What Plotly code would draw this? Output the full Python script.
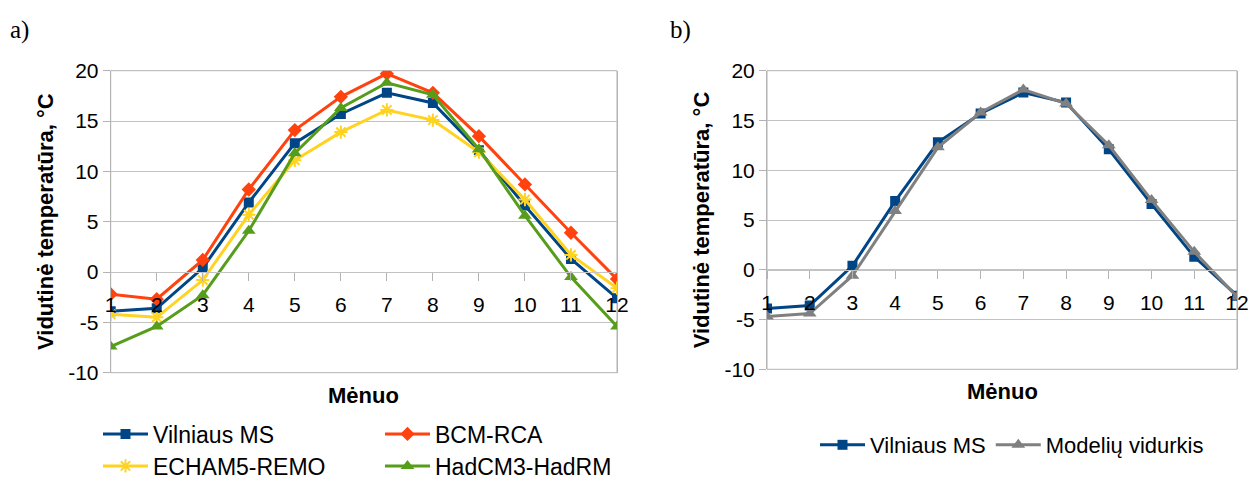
import plotly.graph_objects as go

months = list(range(1, 13))
month_labels = [str(m) for m in months]

vilniaus_ms = [-3.9, -3.6, 0.4, 6.9, 12.8, 15.7, 17.8, 16.8, 12.1, 6.6, 1.3, -2.6]
bcm_rca = [-2.2, -2.7, 1.2, 8.2, 14.1, 17.4, 19.7, 17.8, 13.5, 8.7, 3.9, -0.7]
echam5_remo = [-4.2, -4.5, -0.8, 5.7, 11.1, 13.9, 16.1, 15.1, 11.9, 7.2, 1.7, -1.6]
hadcm3_hadrm = [-7.4, -5.4, -2.3, 4.1, 11.8, 16.3, 18.8, 17.6, 12.2, 5.6, -0.5, -5.4]
modeliu_vidurkis = [-4.7, -4.4, -0.6, 5.9, 12.3, 15.8, 18.1, 16.7, 12.5, 7.0, 1.8, -2.7]

y_ticks = [-10, -5, 0, 5, 10, 15, 20]
y_tick_labels = ["-10", "-5", "0", "5", "10", "15", "20"]

BLUE = "#004586"
ORANGE = "#ff420e"
YELLOW = "#ffd320"
GREEN = "#579d1c"
GRAY = "#808080"
GRID = "#c3c3c3"
BORDER = "#b3b3b3"

W, H = 1251, 482
FONT = "Liberation Sans"

fig = go.Figure()

def add(x, y, name, color, symbol, xa, ya, legend, msize=10):
    fig.add_trace(go.Scatter(
        x=x, y=y, name=name, mode="lines+markers",
        line=dict(color=color, width=3),
        marker=dict(symbol=symbol, size=msize, color=color,
                    line=dict(color=color, width=2 if "asterisk" in symbol else 0)),
        xaxis=xa, yaxis=ya, legend=legend, showlegend=True,
    ))

# chart a
add(months, vilniaus_ms, "Vilniaus MS", BLUE, "square", "x", "y", "legend")
add(months, bcm_rca, "BCM-RCA", ORANGE, "diamond", "x", "y", "legend2", 11)
add(months, echam5_remo, "ECHAM5-REMO", YELLOW, "asterisk-open", "x", "y", "legend3", 11)
add(months, hadcm3_hadrm, "HadCM3-HadRM", GREEN, "triangle-up", "x", "y", "legend4", 12)
# chart b
add(months, vilniaus_ms, "Vilniaus MS", BLUE, "square", "x2", "y2", "legend5")
add(months, modeliu_vidurkis, "Modelių vidurkis", GRAY, "triangle-up", "x2", "y2", "legend5", 12)

xa_dom = [110.7 / W, 617 / W]
xb_dom = [767 / W, 1237 / W]
ya_dom = [1 - 372.7 / H, 1 - 70.7 / H]
yb_dom = [1 - 369.3 / H, 1 - 70.7 / H]

ya0 = ya_dom[0] + (ya_dom[1] - ya_dom[0]) * (10 / 30)
yb0 = yb_dom[0] + (yb_dom[1] - yb_dom[0]) * (10 / 30)

def zero_x(dom, pos):
    # category axis crossing the value axis at 0
    return dict(domain=dom, anchor="free", position=pos, range=[1, 12],
                tickvals=months, ticktext=month_labels, showgrid=False, zeroline=False,
                showline=True, linecolor=GRID, ticks="outside", ticklen=8, tickcolor=BORDER,
                ticklabelstandoff=6, automargin=False,
                tickfont=dict(family=FONT, size=21, color="#000"))

def main_y(dom, anchor):
    return dict(domain=dom, anchor=anchor, range=[-10, 20], tickvals=y_ticks,
                ticktext=y_tick_labels,
                showgrid=True, gridcolor=GRID, gridwidth=1, zeroline=False,
                showline=True, linecolor=BORDER, linewidth=1, mirror=True,
                ticks="outside", ticklen=7, tickcolor=BORDER, automargin=False,
                tickfont=dict(family=FONT, size=21, color="#000"),
                title=dict(text="<b>Vidutinė temperatūra, °C</b>",
                           font=dict(family=FONT, size=22, color="#000"), standoff=8))

leg_common = dict(bgcolor="rgba(0,0,0,0)", xanchor="left", yanchor="middle", itemwidth=45)
leg_font_a = dict(family=FONT, size=23, color="#000")
leg_font_b = dict(family=FONT, size=22, color="#000")

def frame(xr, yr):
    return dict(type="rect", xref=xr + " domain", yref=yr + " domain", x0=0, x1=1, y0=0, y1=1,
                line=dict(color=BORDER, width=1), fillcolor="rgba(0,0,0,0)", layer="below")

def title_x(xr, yr):
    return dict(text="<b>Mėnuo</b>", xref=xr + " domain", yref=yr + " domain", x=0.5, y=0,
                xanchor="center", yanchor="top", yshift=-8, showarrow=False,
                font=dict(family=FONT, size=22, color="#000"))

fig.update_layout(
    width=W, height=H,
    margin=dict(l=0, r=0, t=0, b=0, autoexpand=False),
    paper_bgcolor="white", plot_bgcolor="white",
    font=dict(family=FONT, color="#000"),
    xaxis=zero_x(xa_dom, ya0),
    yaxis=main_y(ya_dom, "x"),
    xaxis2=zero_x(xb_dom, yb0),
    yaxis2=main_y(yb_dom, "x2"),
    legend=dict(x=98 / W, y=1 - 434 / H, font=leg_font_a, **leg_common),
    legend2=dict(x=380 / W, y=1 - 434 / H, font=leg_font_a, **leg_common),
    legend3=dict(x=98 / W, y=1 - 466 / H, font=leg_font_a, **leg_common),
    legend4=dict(x=380 / W, y=1 - 466 / H, font=leg_font_a, **leg_common),
    legend5=dict(x=815 / W, y=1 - 445 / H, orientation="h", font=leg_font_b, **leg_common),
    shapes=[frame("x", "y"), frame("x2", "y2")],
    annotations=[
        title_x("x", "y"),
        title_x("x2", "y2"),
        dict(text="a)", x=8 / W, y=1 - 30 / H, xref="paper", yref="paper",
             xanchor="left", yanchor="middle", showarrow=False,
             font=dict(family="Liberation Serif", size=25, color="#000")),
        dict(text="b)", x=668 / W, y=1 - 30 / H, xref="paper", yref="paper",
             xanchor="left", yanchor="middle", showarrow=False,
             font=dict(family="Liberation Serif", size=25, color="#000")),
    ],
)

fig.write_html("out.html")
